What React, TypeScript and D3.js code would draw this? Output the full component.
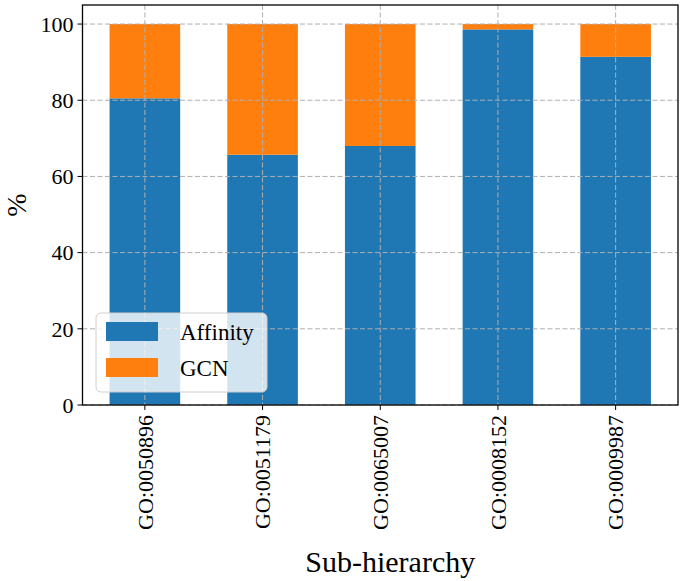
import React from "react";
import * as d3 from "d3";

const categories = ["GO:0050896", "GO:0051179", "GO:0065007", "GO:0008152", "GO:0009987"];
const affinity = [80.5, 65.7, 68.0, 98.6, 91.4];
const gcn = affinity.map((v) => 100 - v);
const yTicks = [0, 20, 40, 60, 80, 100];
const seriesNames = ["Affinity", "GCN"];
const colors = ["#1f77b4", "#ff7f0e"];

const W = 685, H = 581;
const left = 82.5, right = 678, top = 5, bottom = 405;
const FONT = "'Liberation Serif', 'Times New Roman', serif";

export default function App() {
  const n = categories.length;
  const x = d3.scaleLinear().domain([-0.53, n - 1 + 0.53]).range([left, right]);
  const y = d3.scaleLinear().domain([0, 105]).range([bottom, top]);
  const bw = x(0.6) - x(0);
  const gridStyle = { stroke: "#b0b0b0", strokeWidth: 1, strokeDasharray: "5,2.5" };
  return (
    <svg width={W} height={H} style={{ position: "absolute", left: 0, top: 0, background: "#fff" }}>
      {categories.map((c, i) => (
        <g key={c}>
          <rect x={x(i) - bw / 2} y={y(affinity[i])} width={bw} height={y(0) - y(affinity[i])} fill={colors[0]} />
          <rect x={x(i) - bw / 2} y={y(100)} width={bw} height={y(100 - gcn[i]) - y(100)} fill={colors[1]} />
        </g>
      ))}
      {yTicks.map((t) => (
        <line key={"gy" + t} x1={left} x2={right} y1={y(t)} y2={y(t)} {...gridStyle} />
      ))}
      {categories.map((c, i) => (
        <line key={"gx" + c} x1={x(i)} x2={x(i)} y1={top} y2={bottom} {...gridStyle} />
      ))}
      <rect x={left} y={top} width={right - left} height={bottom - top} fill="none" stroke="#000" strokeWidth={1.3} />
      {yTicks.map((t) => (
        <g key={"ty" + t}>
          <line x1={left - 5} x2={left} y1={y(t)} y2={y(t)} stroke="#000" strokeWidth={1} />
          <text x={left - 9} y={y(t)} dy="0.35em" textAnchor="end" fontFamily={FONT} fontSize={22}>{t}</text>
        </g>
      ))}
      {categories.map((c, i) => (
        <g key={"tx" + c}>
          <line x1={x(i)} x2={x(i)} y1={bottom} y2={bottom + 5} stroke="#000" strokeWidth={1} />
          <text transform={`translate(${x(i)},${bottom + 10}) rotate(-90)`} dy="0.35em" textAnchor="end" fontFamily={FONT} fontSize={22}>{c}</text>
        </g>
      ))}
      <text x={(left + right) / 2 + 10} y={572} textAnchor="middle" fontFamily={FONT} fontSize={30}>Sub-hierarchy</text>
      <text transform={`translate(26,${(top + bottom) / 2}) rotate(-90)`} textAnchor="middle" fontFamily={FONT} fontSize={28}>%</text>
      <g>
        <rect x={96} y={313} width={171} height={79} rx={5} fill="#fff" fillOpacity={0.8} stroke="#d0d0d0" strokeWidth={1} />
        {seriesNames.map((s, k) => (
          <g key={s}>
            <rect x={106} y={322 + k * 36} width={52} height={19} fill={colors[k]} />
            <text x={180} y={331.5 + k * 36} dy="0.35em" fontFamily={FONT} fontSize={23}>{s}</text>
          </g>
        ))}
      </g>
    </svg>
  );
}
